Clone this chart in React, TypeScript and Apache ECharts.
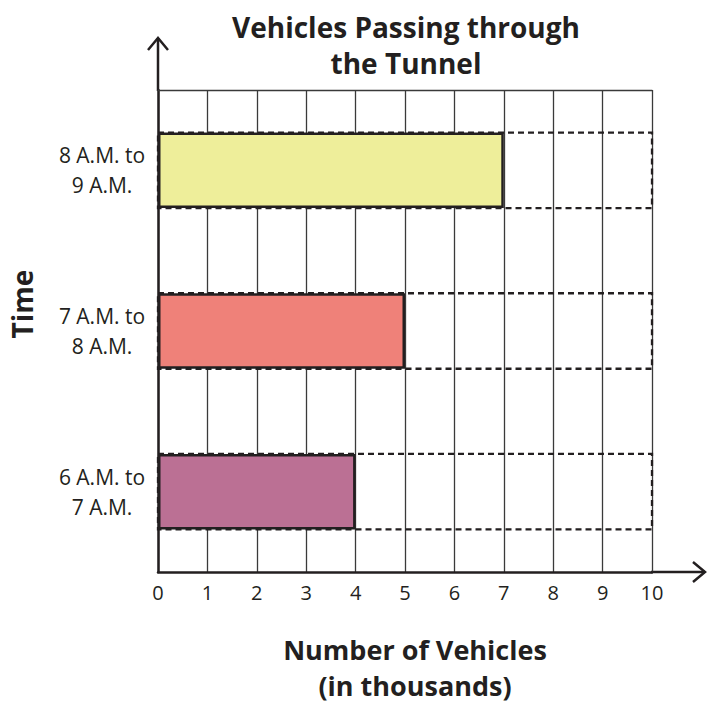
import React, { useEffect, useRef } from "react";
import * as echarts from "echarts";

const categories = ["6 A.M. to\n7 A.M.", "7 A.M. to\n8 A.M.", "8 A.M. to\n9 A.M."];
const vehicles = [4, 5, 7];
const barColors = ["#BB7094", "#EF8179", "#EEEE9A"];
const xTicks = [0, 1, 2, 3, 4, 5, 6, 7, 8, 9, 10];
const titleText = "Vehicles Passing through\nthe Tunnel";
const xName = "Number of Vehicles\n(in thousands)";
const yName = "Time";

const FONT = "'Open Sans', 'Noto Sans', sans-serif";
const INK = "#231f20";

export default function App() {
  const ref = useRef<HTMLDivElement>(null);
  useEffect(() => {
    if (!ref.current) return;
    const chart = echarts.init(ref.current, undefined, { renderer: "svg", width: 708, height: 703 });
    const gl = 158, gr = 652, gt = 90, gb = 572;
    chart.setOption({
      animation: false,
      backgroundColor: "#ffffff",
      title: {
        text: titleText,
        left: 401,
        top: 4,
        textAlign: "center",
        textStyle: { fontFamily: FONT, fontWeight: "bold", fontSize: 28, color: INK, lineHeight: 36 },
      },
      grid: { left: gl, width: gr - gl, top: gt, height: gb - gt, containLabel: false, outerBoundsMode: "none" },
      xAxis: [
        {
          type: "value",
          min: xTicks[0],
          max: xTicks[xTicks.length - 1],
          interval: 1,
          name: xName,
          nameLocation: "middle",
          nameGap: 59,
          nameTextStyle: { fontFamily: FONT, fontWeight: "bold", fontSize: 27, color: INK, lineHeight: 36, padding: [0, 0, 0, 20] },
          axisLine: { show: true, lineStyle: { color: INK, width: 2.5 } },
          axisTick: { show: false },
          axisLabel: { fontFamily: FONT, fontSize: 20, color: INK, margin: 10 },
          splitLine: { show: true, lineStyle: { color: "#3a3a3a", width: 1.3 } },
        },
        {
          type: "value",
          position: "top",
          min: 0,
          max: 10,
          axisLine: { show: true, lineStyle: { color: "#3a3a3a", width: 1.3 } },
          axisTick: { show: false },
          axisLabel: { show: false },
          splitLine: { show: false },
        },
      ],
      yAxis: {
        type: "category",
        data: categories,
        axisLine: { show: true, lineStyle: { color: INK, width: 2.5 } },
        axisTick: { show: false },
        axisLabel: { fontFamily: FONT, fontSize: 21, color: INK, margin: 56, align: "center", lineHeight: 30, padding: [9, 0, 0, 0] },
        splitLine: { show: false },
      },
      series: [
        {
          type: "bar",
          xAxisIndex: 0,
          data: vehicles.map((v, i) => ({ value: v, itemStyle: { color: barColors[i] } })),
          barWidth: "47%",
          itemStyle: { borderColor: INK, borderWidth: 2.5 },
          showBackground: true,
          backgroundStyle: { color: "rgba(0,0,0,0)", borderColor: INK, borderWidth: 2.3, borderType: [6, 4] },
          z: 3,
        },
      ],
      graphic: [
        {
          type: "text",
          x: 22,
          y: 304,
          rotation: Math.PI / 2,
          style: { text: yName, fontFamily: FONT, fontWeight: "bold", fontSize: 28, fill: INK, align: "center", verticalAlign: "middle" },
        },
        { type: "line", shape: { x1: gl, y1: gt + 1, x2: gl, y2: 38 }, style: { stroke: INK, lineWidth: 2.5 } },
        { type: "polyline", shape: { points: [[gl - 10, 50], [gl, 38], [gl + 10, 50]] }, style: { stroke: INK, lineWidth: 2.5, fill: null } },
        { type: "line", shape: { x1: gr - 1, y1: gb, x2: 705, y2: gb }, style: { stroke: INK, lineWidth: 2.5 } },
        { type: "polyline", shape: { points: [[693, gb - 10], [705, gb], [693, gb + 10]] }, style: { stroke: INK, lineWidth: 2.5, fill: null } },
      ],
    });
    return () => chart.dispose();
  }, []);
  return <div ref={ref} style={{ position: "fixed", left: 0, top: 0, width: 708, height: 703 }} />;
}
